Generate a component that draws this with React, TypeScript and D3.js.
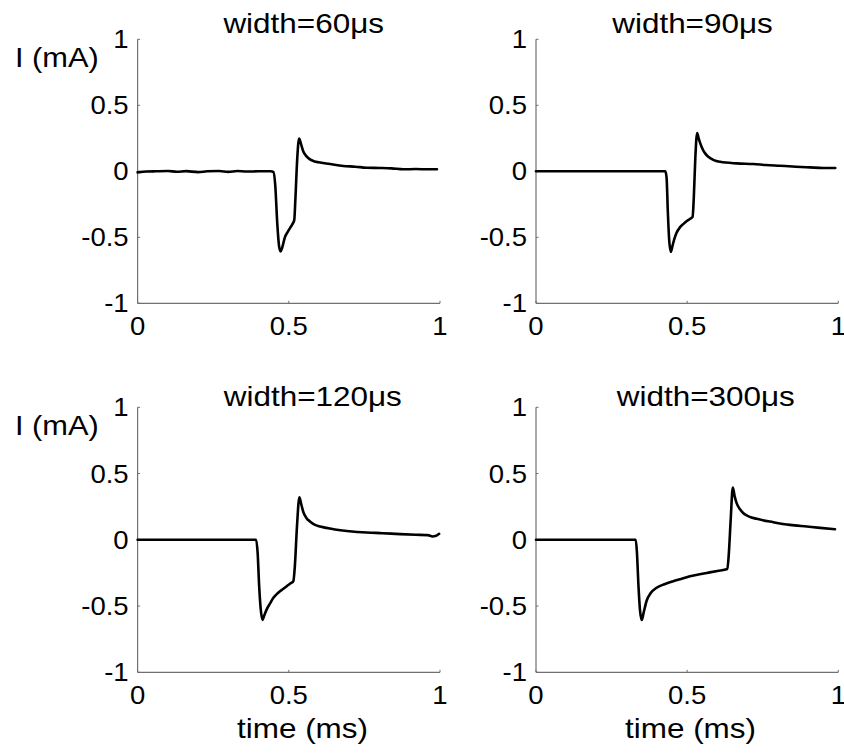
import React from "react";
import * as d3 from "d3";

// ---------- data ----------
const panelTitles = ["width=60μs", "width=90μs", "width=120μs", "width=300μs"];
const yTicks = [-1, -0.5, 0, 0.5, 1];
const xTicks = [0, 0.5, 1];
const yLabelText = "I (mA)";
const xLabelText = "time (ms)";

const trace60: [number, number][] = [
  [0, -0.008], [0.03, -0.002], [0.06, 0], [0.1, 0.002], [0.13, -0.003], [0.16, 0.001],
  [0.2, -0.006], [0.23, 0], [0.27, 0.002], [0.3, -0.004], [0.33, 0.002], [0.36, -0.002],
  [0.4, 0], [0.44, 0], [0.449, -0.005], [0.455, -0.1], [0.462, -0.4], [0.468, -0.57],
  [0.473, -0.607], [0.478, -0.58], [0.487, -0.5], [0.496, -0.46], [0.504, -0.43],
  [0.512, -0.4], [0.518, -0.37], [0.522, -0.2], [0.528, 0.1], [0.534, 0.248],
  [0.54, 0.21], [0.548, 0.15], [0.558, 0.115], [0.57, 0.09], [0.585, 0.075],
  [0.598, 0.068], [0.636, 0.055], [0.68, 0.04], [0.72, 0.035], [0.757, 0.027],
  [0.8, 0.025], [0.84, 0.022], [0.879, 0.015], [0.92, 0.017], [0.96, 0.015], [0.99, 0.015],
];

const trace90: [number, number][] = [
  [0, 0], [0.428, 0], [0.432, -0.05], [0.436, -0.3], [0.44, -0.5], [0.446, -0.61],
  [0.452, -0.56], [0.458, -0.51], [0.465, -0.466], [0.476, -0.425], [0.487, -0.4],
  [0.5, -0.375], [0.51, -0.36], [0.518, -0.345], [0.522, -0.2], [0.527, 0.1],
  [0.533, 0.29], [0.538, 0.25], [0.548, 0.185], [0.558, 0.14], [0.57, 0.11],
  [0.588, 0.085], [0.609, 0.072], [0.664, 0.06], [0.719, 0.055], [0.76, 0.048],
  [0.807, 0.042], [0.86, 0.035], [0.906, 0.03], [0.95, 0.025], [0.99, 0.025],
];

const trace120: [number, number][] = [
  [0, 0], [0.392, 0], [0.397, -0.1], [0.402, -0.35], [0.407, -0.52], [0.413, -0.605],
  [0.419, -0.57], [0.427, -0.525], [0.438, -0.48], [0.449, -0.4375], [0.46, -0.41],
  [0.471, -0.388], [0.482, -0.37], [0.493, -0.35], [0.505, -0.33], [0.515, -0.3125],
  [0.52, -0.2], [0.527, 0.1], [0.535, 0.32], [0.541, 0.27], [0.548, 0.21],
  [0.558, 0.165], [0.571, 0.137], [0.585, 0.115], [0.604, 0.1], [0.648, 0.08],
  [0.7, 0.065], [0.758, 0.055], [0.81, 0.05], [0.868, 0.043], [0.92, 0.038],
  [0.96, 0.035], [0.975, 0.025], [0.985, 0.028], [0.997, 0.045],
];

const trace300: [number, number][] = [
  [0, 0], [0.33, 0], [0.334, -0.1], [0.339, -0.35], [0.344, -0.53], [0.35, -0.605],
  [0.356, -0.55], [0.366, -0.46], [0.38, -0.4], [0.399, -0.362], [0.425, -0.335],
  [0.454, -0.3125], [0.48, -0.295], [0.509, -0.275], [0.537, -0.262], [0.565, -0.25],
  [0.6, -0.235], [0.633, -0.22], [0.638, -0.1], [0.644, 0.15], [0.651, 0.395],
  [0.657, 0.33], [0.664, 0.275], [0.675, 0.23], [0.686, 0.2], [0.705, 0.175],
  [0.73, 0.158], [0.785, 0.133], [0.84, 0.1125], [0.896, 0.1], [0.94, 0.09], [0.989, 0.08],
];

const traces = [trace60, trace90, trace120, trace300];

// ---------- layout ----------
const W = 844;
const H = 753;
const colX: [number, number][] = [
  [137.6, 440],
  [536, 838.3],
];
const rowY: [number, number][] = [
  [39.3, 303.3],
  [407.3, 672.3],
];
const titlePos: [number, number][] = [
  [303.7, 32.7],
  [692.5, 32.7],
  [312.8, 406.3],
  [705.8, 406.3],
];
const axisColor = "#707070";
const FONT = "'Liberation Sans', Arial, Helvetica, sans-serif";

type TProps = {
  x: number;
  y: number;
  size: number;
  sx: number;
  anchor?: "start" | "middle" | "end";
  children: React.ReactNode;
};
function T({ x, y, size, sx, anchor = "start", children }: TProps) {
  return (
    <text
      transform={`translate(${x},${y}) scale(${sx},1)`}
      fontFamily={FONT}
      fontSize={size}
      textAnchor={anchor}
      fill="#000"
    >
      {children}
    </text>
  );
}

function Panel({ idx }: { idx: number }) {
  const col = idx % 2;
  const row = Math.floor(idx / 2);
  const [x0, x1] = colX[col];
  const [yTop, yBot] = rowY[row];
  const x = d3.scaleLinear().domain([0, 1]).range([x0, x1]);
  const y = d3.scaleLinear().domain([-1, 1]).range([yBot, yTop]);
  const line = d3
    .line<[number, number]>()
    .x((d) => x(d[0]))
    .y((d) => y(d[1]))
    .curve(d3.curveMonotoneX);
  const tickLen = 2.5;
  return (
    <g>
      {/* axes */}
      <line x1={x0} x2={x0} y1={yTop} y2={yBot} stroke={axisColor} strokeWidth={1.2} />
      <line x1={x0} x2={x1} y1={yBot} y2={yBot} stroke={axisColor} strokeWidth={1.2} />
      {yTicks.map((t) => (
        <g key={"y" + t}>
          <line x1={x0} x2={x0 + tickLen} y1={y(t)} y2={y(t)} stroke={axisColor} strokeWidth={1} />
          <T x={x0 - 9} y={y(t) + 9} size={25} sx={1.1} anchor="end">
            {String(t)}
          </T>
        </g>
      ))}
      {xTicks.map((t) => (
        <g key={"x" + t}>
          <line x1={x(t)} x2={x(t)} y1={yBot} y2={yBot - tickLen} stroke={axisColor} strokeWidth={1} />
          <T x={x(t)} y={yBot + 31.7} size={25} sx={1.1} anchor="middle">
            {String(t)}
          </T>
        </g>
      ))}
      <path
        d={line(traces[idx]) || ""}
        fill="none"
        stroke="#000"
        strokeWidth={2.6}
        strokeLinejoin="round"
        strokeLinecap="round"
      />
      <T x={titlePos[idx][0]} y={titlePos[idx][1]} size={27} sx={1.165} anchor="middle">
        {panelTitles[idx]}
      </T>
      {col === 0 && (
        <T x={15} y={yTop + 27.4} size={28} sx={1.1}>
          {yLabelText}
        </T>
      )}
      {row === 1 && (
        <T x={col === 0 ? 302.5 : 690.5} y={737.5} size={27} sx={1.165} anchor="middle">
          {xLabelText}
        </T>
      )}
    </g>
  );
}

export default function App() {
  return (
    <svg
      width={W}
      height={H}
      viewBox={`0 0 ${W} ${H}`}
      style={{ position: "absolute", left: 0, top: 0, background: "#fff" }}
    >
      <rect x={0} y={0} width={W} height={H} fill="#fff" />
      {[0, 1, 2, 3].map((i) => (
        <Panel key={i} idx={i} />
      ))}
    </svg>
  );
}
